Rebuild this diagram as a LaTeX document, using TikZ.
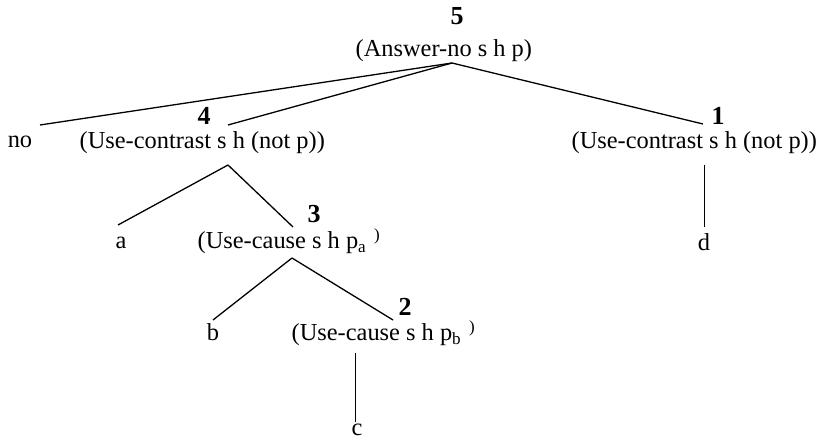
\documentclass[tikz,border=0pt]{standalone}
\usepackage{fontspec}
\setmainfont{Liberation Serif}
\usepackage{tikz}
\usetikzlibrary{positioning}

\newcommand{\usecause}[1]{(Use-cause s h p\textsubscript{#1}\hspace{0.3em}\raisebox{0.35em}{\fontsize{8.5}{9}\selectfont )}}

\begin{document}
\begin{tikzpicture}[x=0.5pt,y=-0.5pt,line width=0.65pt,
  every node/.style={inner sep=0pt,font=\fontsize{12.2}{14}\selectfont},
  goal/.style={anchor=base west},
  num/.style={anchor=base,font=\fontsize{13}{14}\selectfont\bfseries},
  leaf/.style={anchor=base}]
 \useasboundingbox (0,0) rectangle (818,442);
 % top goal
 \node[num] (n5) at (457,25) {5};
 \node[goal] (t5) at (355,57) {(Answer-no s h p)};
 \coordinate (j5) at (452,63);
 % second level
 \node[leaf] (no) at (20,148) {no};
 \node[num] (n4) at (204,125) {4};
 \node[goal] (t4) at (79,149) {(Use-contrast s h (not p))};
 \node[num] (n1) at (718,125) {1};
 \node[goal] (t1) at (571,149) {(Use-contrast s h (not p))};
 \coordinate (kno) at (40,125);
 \coordinate (k4) at (228,125);
 \coordinate (k1) at (703,124);
 \draw (j5) -- (kno);
 \draw (j5) -- (k4);
 \draw (j5) -- (k1);
 % under 4 and 1
 \coordinate (j4) at (228,165);
 \coordinate (j1) at (704.5,165);
 \node[leaf] (a) at (121,249) {a};
 \node[num] (n3) at (314,223) {3};
 \node[goal] (t3) at (197,249) {\usecause{a}};
 \node[leaf] (d) at (704,251) {d};
 \coordinate (ka) at (118,225);
 \coordinate (k3) at (293,227);
 \coordinate (kd) at (704.5,227);
 \draw (j4) -- (ka);
 \draw (j4) -- (k3);
 \draw (j1) -- (kd);
 % under 3
 \coordinate (j3) at (292,258);
 \node[leaf] (b) at (213,341) {b};
 \node[num] (n2) at (405,316) {2};
 \node[goal] (t2) at (291,341) {\usecause{b}};
 \coordinate (kb) at (213,320);
 \coordinate (k2) at (393,320);
 \draw (j3) -- (kb);
 \draw (j3) -- (k2);
 % under 2
 \coordinate (j2) at (355.5,353);
 \node[leaf] (c) at (357,436) {c};
 \coordinate (kc) at (355.5,422);
 \draw (j2) -- (kc);
\end{tikzpicture}
\end{document}
